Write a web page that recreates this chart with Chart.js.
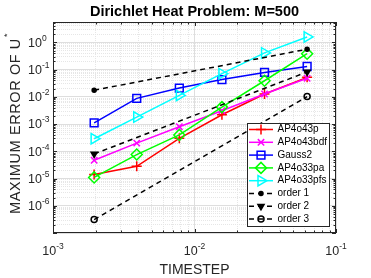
<!DOCTYPE html>
<html>
<head>
<meta charset="utf-8">
<title>Dirichlet Heat Problem</title>
<script src="https://cdn.jsdelivr.net/npm/chart.js@4/dist/chart.umd.min.js"></script>
<style>
    html, body { margin: 0; padding: 0; background: #fff; }
    #wrap { width: 371px; height: 278px; }
</style>
</head>
<body>
<div id="wrap"><canvas id="chart" width="371" height="278"></canvas></div>
<script>
'use strict';

// timesteps 1/512 ... 1/16, the order lines only use the two ends
const timesteps = [1/512, 1/256, 1/128, 1/64, 1/32, 1/16];
const orderSteps = [1/512, 1/16];

const seriesNames = ['AP4o43p', 'AP4o43bdf', 'Gauss2', 'AP4o33pa', 'AP4o33pfs', 'order 1', 'order 2', 'order 3'];

// maximum error of U*
const errAP4o43p   = [1.4e-5, 2.8e-5, 3.0e-4, 2.2e-3, 1.27e-2, 5.2e-2];
const errAP4o43bdf = [4.7e-5, 2.0e-4, 8.0e-4, 3.1e-3, 1.27e-2, 4.8e-2];
const errGauss2    = [1.1e-3, 8.8e-3, 2.1e-2, 4.3e-2, 7.9e-2, 1.3e-1];
const errAP4o33pa  = [1.1e-5, 7.6e-5, 4.0e-4, 4.2e-3, 3.9e-2, 3.85e-1];
const errAP4o33pfs = [2.9e-4, 1.8e-3, 1.13e-2, 7.1e-2, 4.1e-1, 1.58];
const order1 = [1.75e-2, 5.6e-1];
const order2 = [8.0e-5, 8.2e-2];
const order3 = [3.1e-7, 1.02e-2];

// decade labels
const xTickExps = [-3, -2, -1];
const yTickExps = [-6, -5, -4, -3, -2, -1, 0];

const X_MIN = 1e-3, X_MAX = 1e-1;
const Y_MIN = 1e-7, Y_MAX = 5.6;

const FONT = '"Liberation Sans", Arial, Helvetica, sans-serif';
const INK = '#262626';

(function(){

    function toPoints(xs, ys) {
        return xs.map(function(x, i) { return {x: x, y: ys[i]}; });
    }

    // 1..9 x 10^e for every decade, cut at max
    function logGrid(min, max) {
        let out = [];
        for (let e = Math.floor(Math.log10(min)); e <= Math.ceil(Math.log10(max)); e++) {
            for (let m = 1; m <= 9; m++) {
                let v = m * Math.pow(10, e);
                if (v >= min * 0.999 && v <= max * 1.001) {
                    out.push({value: v, major: m === 1});
                }
            }
        }
        return out;
    }

    let styles = [
        {color: '#ff0000', point: 'cross',    radius: 5,   rot: 0,   bg: 'rgba(0,0,0,0)', dash: []},
        {color: '#ff00ff', point: 'crossRot', radius: 4.5, rot: 0,   bg: 'rgba(0,0,0,0)', dash: []},
        {color: '#0000ff', point: 'rect',     radius: 5.5, rot: 0,   bg: 'rgba(0,0,0,0)', dash: []},
        {color: '#00ff00', point: 'rectRot',  radius: 5.5, rot: 0,   bg: 'rgba(0,0,0,0)', dash: []},
        {color: '#00ffff', point: 'triangle', radius: 6,   rot: 90,  bg: 'rgba(0,0,0,0)', dash: []},
        {color: '#000000', point: 'circle',   radius: 2,   rot: 0,   bg: '#000000',       dash: [5, 4]},
        {color: '#000000', point: 'triangle', radius: 3.5, rot: 180, bg: '#000000',       dash: [5, 4]},
        {color: '#000000', point: 'circle',   radius: 3,   rot: 0,   bg: 'rgba(0,0,0,0)', dash: [5, 4]},
    ];

    let series = [
        toPoints(timesteps, errAP4o43p),
        toPoints(timesteps, errAP4o43bdf),
        toPoints(timesteps, errGauss2),
        toPoints(timesteps, errAP4o33pa),
        toPoints(timesteps, errAP4o33pfs),
        toPoints(orderSteps, order1),
        toPoints(orderSteps, order2),
        toPoints(orderSteps, order3),
    ];

    let datasets = series.map(function(points, i) {
        let s = styles[i];
        return {
            label: seriesNames[i],
            data: points,
            order: series.length - i, // later lines on top, like matlab
            borderColor: s.color,
            borderWidth: 1.5,
            borderDash: s.dash,
            fill: false,
            tension: 0,
            pointStyle: s.point,
            pointRadius: s.radius,
            pointHoverRadius: s.radius,
            pointRotation: s.rot,
            pointBorderColor: s.color,
            pointBackgroundColor: s.bg,
            pointBorderWidth: 1.5,
        };
    });

    function drawPow10(ctx, exp, x, y, center) {
        ctx.font = '12.5px ' + FONT;
        let wBase = ctx.measureText('10').width;
        ctx.font = '8.5px ' + FONT;
        let sup = String(exp);
        let wSup = ctx.measureText(sup).width;
        let x0 = center ? x - (wBase + wSup) / 2 : x;
        ctx.font = '12.5px ' + FONT;
        ctx.fillText('10', x0, y);
        ctx.font = '8.5px ' + FONT;
        ctx.fillText(sup, x0 + wBase, y - 6);
    }

    // box, inward ticks, tick labels, axis titles and the legend
    let matlabAxes = {
        id: 'matlabAxes',
        afterDraw: function(chart) {
            let ctx = chart.ctx;
            let a = chart.chartArea;
            let xs = chart.scales.x, ys = chart.scales.y;
            ctx.save();

            ctx.strokeStyle = INK;
            ctx.lineWidth = 1;
            ctx.strokeRect(a.left + 0.5, a.top + 0.5, a.right - a.left - 1, a.bottom - a.top - 1);

            ctx.beginPath();
            xs.ticks.forEach(function(t) {
                let px = Math.round(xs.getPixelForValue(t.value)) + 0.5;
                let len = t.major ? 4 : 2.5;
                ctx.moveTo(px, a.bottom); ctx.lineTo(px, a.bottom - len);
                ctx.moveTo(px, a.top); ctx.lineTo(px, a.top + len);
            });
            ys.ticks.forEach(function(t) {
                let py = Math.round(ys.getPixelForValue(t.value)) + 0.5;
                let len = t.major ? 4 : 2.5;
                ctx.moveTo(a.left, py); ctx.lineTo(a.left + len, py);
                ctx.moveTo(a.right, py); ctx.lineTo(a.right - len, py);
            });
            ctx.stroke();

            // tick labels
            ctx.fillStyle = INK;
            ctx.textAlign = 'left';
            ctx.textBaseline = 'alphabetic';
            xTickExps.forEach(function(e) {
                drawPow10(ctx, e, xs.getPixelForValue(Math.pow(10, e)), 254.5, true);
            });
            yTickExps.forEach(function(e) {
                drawPow10(ctx, e, 28, ys.getPixelForValue(Math.pow(10, e)) + 4.3, false);
            });

            // x title
            ctx.font = '14px ' + FONT;
            ctx.textAlign = 'center';
            ctx.fillText('TIMESTEP', (a.left + a.right) / 2, 273.5);

            // y title with superscript star
            ctx.save();
            ctx.translate(20, (a.top + a.bottom) / 2 - 4);
            ctx.rotate(-Math.PI / 2);
            ctx.textAlign = 'left';
            ctx.letterSpacing = '0.6px';
            let main = 'MAXIMUM ERROR OF U';
            ctx.font = '14.5px ' + FONT;
            let wMain = ctx.measureText(main).width;
            ctx.font = '9px ' + FONT;
            let wStar = ctx.measureText('*').width;
            let start = -(wMain + wStar + 1) / 2;
            ctx.font = '14.5px ' + FONT;
            ctx.fillText(main, start, 0);
            ctx.font = '9px ' + FONT;
            ctx.fillText('*', start + wMain + 1, -10);
            ctx.restore();

            // legend
            let lg = {x: 247, y: 123, w: 82, h: 103, row0: 129.5, rowH: 12.8};
            ctx.fillStyle = '#ffffff';
            ctx.fillRect(lg.x, lg.y, lg.w, lg.h);
            ctx.strokeStyle = INK;
            ctx.lineWidth = 1;
            ctx.strokeRect(lg.x + 0.5, lg.y + 0.5, lg.w, lg.h);

            chart.data.datasets.forEach(function(ds, i) {
                let y = lg.row0 + i * lg.rowH;
                ctx.save();
                ctx.strokeStyle = ds.borderColor;
                ctx.lineWidth = ds.borderWidth;
                ctx.setLineDash(ds.borderDash);
                ctx.beginPath();
                ctx.moveTo(249, y);
                ctx.lineTo(273, y);
                ctx.stroke();
                ctx.setLineDash([]);
                ctx.fillStyle = ds.pointBackgroundColor;
                ctx.strokeStyle = ds.pointBorderColor;
                ctx.lineWidth = ds.pointBorderWidth;
                Chart.helpers.drawPoint(ctx, {
                    pointStyle: ds.pointStyle,
                    rotation: ds.pointRotation,
                    radius: ds.pointRadius,
                    borderWidth: ds.pointBorderWidth,
                }, 261, y);
                ctx.restore();

                ctx.fillStyle = '#000000';
                ctx.font = '10px ' + FONT;
                ctx.textAlign = 'left';
                ctx.textBaseline = 'middle';
                ctx.fillText(ds.label, 277.5, y);
            });

            ctx.restore();
        }
    };

    function gridOptions() {
        return {
            drawTicks: false,
            lineWidth: 1,
            color: function(c) { return c.tick && c.tick.major ? '#dedede' : '#e6e6e6'; },
        };
    }

    function borderOptions() {
        return {
            display: false,
            dash: function(c) { return c.tick && c.tick.major ? [] : [1, 1]; },
        };
    }

    new Chart(document.getElementById('chart').getContext('2d'), {
        type: 'line',
        data: {datasets: datasets},
        plugins: [matlabAxes],
        options: {
            responsive: false,
            animation: false,
            events: [],
            layout: {
                autoPadding: false,
                padding: {left: 53, right: 35, top: 0, bottom: 45},
            },
            plugins: {
                legend: {display: false},
                tooltip: {enabled: false},
                title: {
                    display: true,
                    text: 'Dirichlet Heat Problem: M=500',
                    color: '#000000',
                    font: {family: FONT, size: 14.5, weight: 'bold'},
                    padding: {top: 3, bottom: 1.6},
                },
            },
            scales: {
                x: {
                    type: 'logarithmic',
                    min: X_MIN,
                    max: X_MAX,
                    afterBuildTicks: function(scale) { scale.ticks = logGrid(X_MIN, X_MAX); },
                    ticks: {display: false},
                    grid: gridOptions(),
                    border: borderOptions(),
                },
                y: {
                    type: 'logarithmic',
                    min: Y_MIN,
                    max: Y_MAX,
                    afterBuildTicks: function(scale) { scale.ticks = logGrid(Y_MIN, Y_MAX); },
                    ticks: {display: false},
                    grid: gridOptions(),
                    border: borderOptions(),
                },
            },
        },
    });
})();
</script>
</body>
</html>
